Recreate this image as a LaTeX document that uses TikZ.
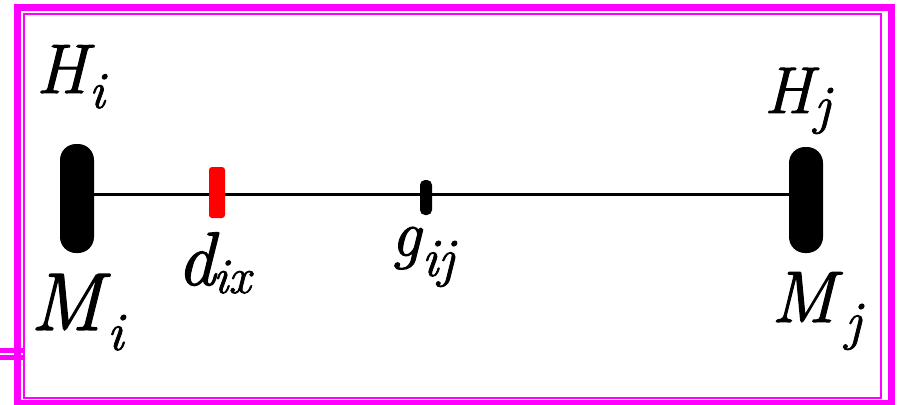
\documentclass[tikz,border=0pt]{standalone}
\usepackage{fontspec}
\setmainfont{Latin Modern Roman}[ItalicFeatures={FakeBold=1.5}]
\definecolor{mag}{RGB}{255,0,255}
\definecolor{redm}{RGB}{255,0,0}
\begin{document}
\begin{tikzpicture}[x=1pt,y=-1pt,
  frameouter/.style={draw=mag,line width=7pt},
  frameinner/.style={draw=mag,line width=2pt},
  stub/.style={draw=mag,line width=4.5pt},
  pole/.style={fill=black,draw=none,rounded corners=16pt,minimum width=34pt,inner sep=0pt},
  tickmark/.style={draw=none,inner sep=0pt},
  axis/.style={draw=black,line width=3pt},
  lab/.style={anchor=base west,inner sep=0pt},
]
\useasboundingbox (0,0) rectangle (901,404);
% frame
\draw[frameouter] (17.5,7.5) rectangle (891,403.5);
\draw[frameinner] (24,14) rectangle (881,398);
\coordinate (s1a) at (0,350.5); \coordinate (s1b) at (23,350.5);
\coordinate (s2a) at (0,357.5); \coordinate (s2b) at (23,357.5);
\draw[stub] (s1a) -- (s1b);
\draw[stub] (s2a) -- (s2b);
% poles
\node[pole,minimum height=109pt] (mi) at (77,198.5) {};
\node[pole,minimum height=106pt] (mj) at (806,200) {};
\draw[axis] ([yshift=4.5pt]mi.east) -- ([yshift=6pt]mj.west);
\node[tickmark,fill=redm,rounded corners=3pt,minimum width=16pt,minimum height=51pt] (dx) at (217,192.5) {};
\node[tickmark,fill=black,rounded corners=5pt,minimum width=12pt,minimum height=35pt] (gx) at (426,197.5) {};
% labels
\node[lab,font=\fontsize{70}{70}\selectfont\itshape] (hi) at (36,93) {H\hspace{2pt}\raisebox{-15pt}{\fontsize{52}{52}\selectfont i}};
\node[lab,font=\fontsize{82}{82}\selectfont\itshape] (mli) at (30,330) {M\hspace{5pt}\raisebox{-20pt}{\fontsize{54}{54}\selectfont i}};
\node[lab,font=\fontsize{66}{66}\selectfont\itshape] (hj) at (764,113) {H\hspace{2pt}\raisebox{-10pt}{\fontsize{54}{54}\selectfont j}};
\node[lab,font=\fontsize{73}{73}\selectfont\itshape] (mlj) at (771,322) {M\hspace{10pt}\raisebox{-17pt}{\fontsize{54}{54}\selectfont j}};
\node[lab,font=\fontsize{76}{76}\selectfont\itshape] (dl) at (177,285) {d\hspace{-2pt}\raisebox{-8pt}{\fontsize{50}{50}\selectfont ix}};
\node[lab,font=\fontsize{66}{66}\selectfont\itshape] (gl) at (391,256) {g\hspace{1pt}\raisebox{-20pt}{\fontsize{54}{54}\selectfont ij}};
\end{tikzpicture}
\end{document}
